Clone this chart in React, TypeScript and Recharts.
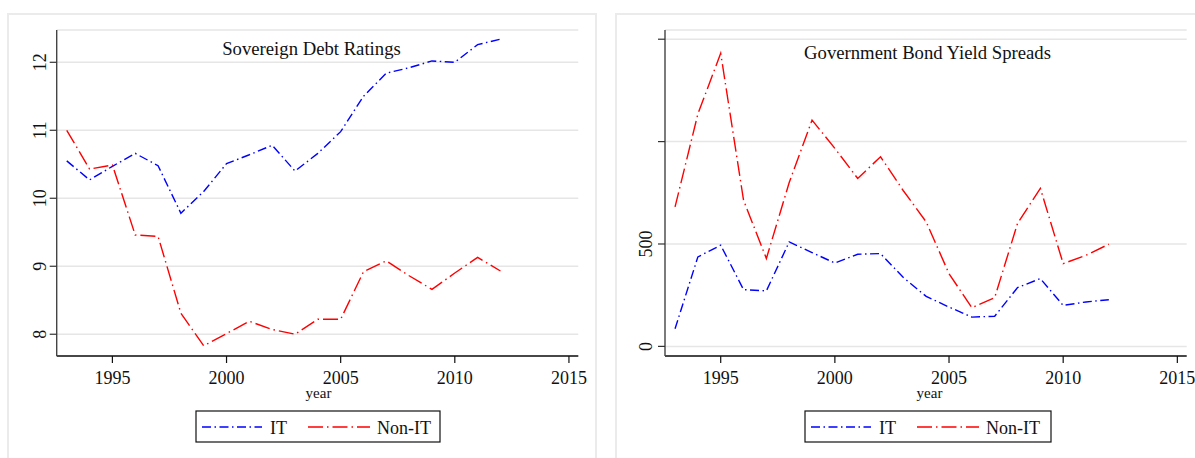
import { LineChart, Line, XAxis, YAxis, CartesianGrid } from "recharts";

// years on the x axis, shared by both panels
const years = [
  1993, 1994, 1995, 1996, 1997, 1998, 1999, 2000, 2001, 2002,
  2003, 2004, 2005, 2006, 2007, 2008, 2009, 2010, 2011, 2012,
];

// Sovereign debt ratings
const ratingIT = [
  10.55, 10.27, 10.47, 10.66, 10.48, 9.78, 10.1, 10.51, 10.64, 10.78,
  10.4, 10.66, 10.98, 11.5, 11.84, 11.92, 12.02, 12.0, 12.26, 12.34,
];
const ratingNonIT = [
  11.0, 10.43, 10.49, 9.46, 9.44, 8.31, 7.83, 8.01, 8.19, 8.07,
  8.0, 8.22, 8.22, 8.92, 9.08, 8.86, 8.66, 8.9, 9.13, 8.93,
];

// Government bond yield spreads
const spreadIT = [
  86, 437, 494, 277, 271, 510, 458, 407, 450, 453,
  336, 244, 192, 143, 147, 287, 331, 200, 217, 228,
];
const spreadNonIT = [
  681, 1135, 1431, 714, 429, 800, 1105, 967, 820, 926,
  760, 608, 355, 189, 238, 600, 772, 404, 445, 499,
];

const xTicks = [1995, 2000, 2005, 2010, 2015];
const ratingTicks = [8, 9, 10, 11, 12];
const spreadTicks = [0, 500, 1000, 1500];
const spreadLabels = [0, 500];

const seriesNames = ["IT", "Non-IT"];
const seriesColors = ["#0000ff", "#ff0000"];
const seriesDash = ["9 3.5 1.5 3.5", "15 4 1.5 4"];

const ratingData = years.map((year, i) => ({ year, it: ratingIT[i], nonIt: ratingNonIT[i] }));
const spreadData = years.map((year, i) => ({ year, it: spreadIT[i], nonIt: spreadNonIT[i] }));

const serif = '"Liberation Serif", "Times New Roman", serif';

function XTick(props: any) {
  const { x, y, payload } = props;
  return (
    <text x={x} y={y + 19} textAnchor="middle" fontFamily={serif} fontSize={18} fill="#111">
      {payload.value}
    </text>
  );
}

function makeYTick(shift: number, labelled?: number[]) {
  return function YTick(props: any) {
    const { x, y, payload } = props;
    if (labelled && !labelled.includes(payload.value)) return null;
    return (
      <text
        transform={`translate(${x - shift}, ${y}) rotate(-90)`}
        textAnchor="middle"
        fontFamily={serif}
        fontSize={18}
        fill="#111"
      >
        {payload.value}
      </text>
    );
  };
}

const RatingTick = makeYTick(2);
const SpreadTick = makeYTick(4, spreadLabels);

function Panel(props: {
  data: any[];
  left: number;
  width: number;
  axisWidth: number;
  right: number;
  domain: [number, number];
  ticks: number[];
  tick: any;
}) {
  const { data, left, width, axisWidth, right, domain, ticks, tick } = props;
  return (
    <div style={{ position: "absolute", left, top: 0 }}>
      <LineChart width={width} height={458} data={data} margin={{ top: 30, right, left: 0, bottom: 62 }}>
        <CartesianGrid vertical={false} stroke="#e6e6e6" strokeWidth={1.5} />
        <XAxis
          dataKey="year"
          type="number"
          domain={[1992.56, 2015.41]}
          ticks={xTicks}
          allowDataOverflow
          height={40}
          tickSize={7}
          tickMargin={2}
          tick={<XTick />}
          axisLine={{ stroke: "#111", strokeWidth: 1.4 }}
          tickLine={{ stroke: "#111", strokeWidth: 1.2 }}
        />
        <YAxis
          type="number"
          domain={domain}
          ticks={ticks}
          allowDataOverflow
          width={axisWidth}
          tickSize={7}
          tickMargin={2}
          tick={tick}
          axisLine={{ stroke: "#444", strokeWidth: 1.4 }}
          tickLine={{ stroke: "#333", strokeWidth: 1.2 }}
        />
        <Line
          dataKey="it"
          name={seriesNames[0]}
          stroke={seriesColors[0]}
          strokeWidth={1.4}
          strokeDasharray={seriesDash[0]}
          dot={false}
          type="linear"
          isAnimationActive={false}
        />
        <Line
          dataKey="nonIt"
          name={seriesNames[1]}
          stroke={seriesColors[1]}
          strokeWidth={1.4}
          strokeDasharray={seriesDash[1]}
          dot={false}
          type="linear"
          isAnimationActive={false}
        />
      </LineChart>
    </div>
  );
}

function LegendBox({ x, width }: { x: number; width: number }) {
  // sample line, label, sample line, label
  const offs = [
    [6, 66, 74],
    [112, 174, 181],
  ];
  return (
    <g>
      <rect x={x} y={411} width={width} height={31} fill="#fff" stroke="#111" strokeWidth={1.2} />
      {seriesNames.map((name, i) => (
        <g key={name}>
          <line
            x1={x + offs[i][0]}
            x2={x + offs[i][1]}
            y1={427}
            y2={427}
            stroke={seriesColors[i]}
            strokeWidth={1.4}
            strokeDasharray={seriesDash[i]}
          />
          <text x={x + offs[i][2]} y={434} fontFamily={serif} fontSize={18} fill="#111">
            {name}
          </text>
        </g>
      ))}
    </g>
  );
}

export default function App() {
  return (
    <div
      style={{
        position: "absolute",
        left: 0,
        top: 0,
        width: 1195,
        height: 458,
        overflow: "hidden",
        background: "#fff",
      }}
    >
      <div style={{ position: "absolute", left: 7, top: 13, width: 590, height: 480, border: "2px solid #ebebeb", boxSizing: "border-box" }} />
      <div style={{ position: "absolute", left: 615, top: 13, width: 600, height: 480, border: "2px solid #ebebeb", boxSizing: "border-box" }} />

      <Panel
        data={ratingData}
        left={0}
        width={598}
        axisWidth={56.7}
        right={19.7}
        domain={[7.68, 12.475]}
        ticks={ratingTicks}
        tick={<RatingTick />}
      />
      <Panel
        data={spreadData}
        left={600}
        width={595}
        axisWidth={65}
        right={8.3}
        domain={[-47, 1545]}
        ticks={spreadTicks}
        tick={<SpreadTick />}
      />

      <svg width={1195} height={458} style={{ position: "absolute", left: 0, top: 0, pointerEvents: "none" }}>
        <text x={311.5} y={55} textAnchor="middle" fontFamily={serif} fontSize={18.7} fill="#111">
          Sovereign Debt Ratings
        </text>
        <text x={927.5} y={59} textAnchor="middle" fontFamily={serif} fontSize={18.7} fill="#111">
          Government Bond Yield Spreads
        </text>
        <text x={318.5} y={398} textAnchor="middle" fontFamily={serif} fontSize={15} fill="#111">
          year
        </text>
        <text x={929.5} y={398} textAnchor="middle" fontFamily={serif} fontSize={15} fill="#111">
          year
        </text>
        <LegendBox x={196} width={244} />
        <LegendBox x={805} width={246} />
      </svg>
    </div>
  );
}
